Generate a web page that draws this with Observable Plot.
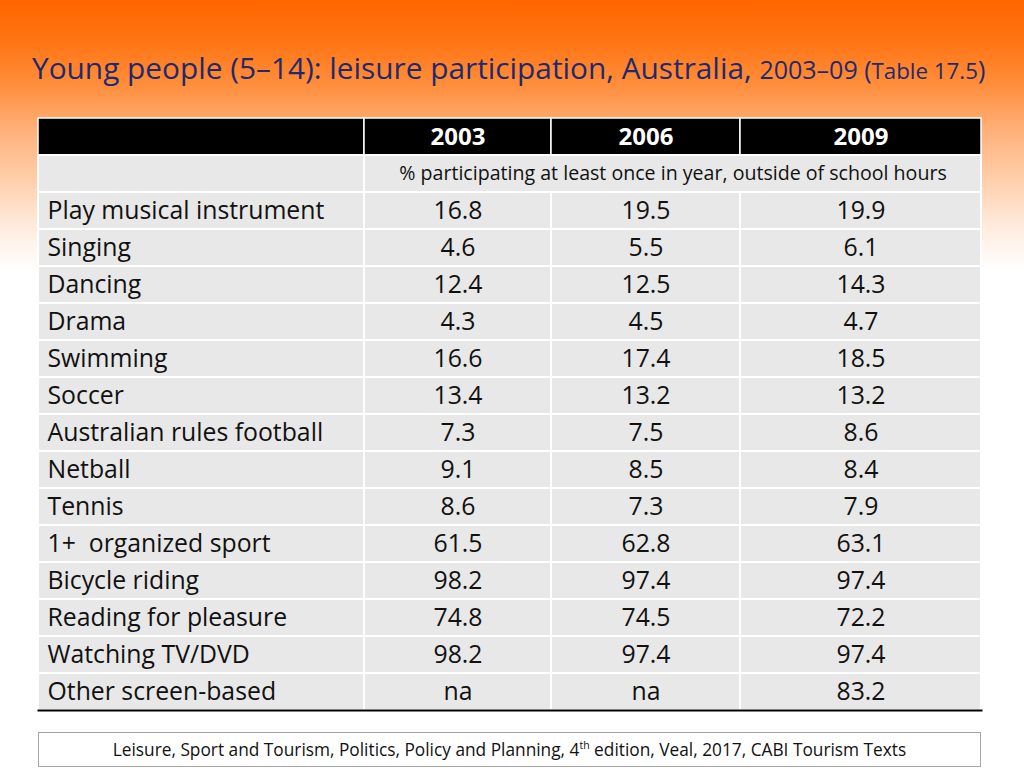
<!DOCTYPE html>
<html><head><meta charset="utf-8">
<script src="https://cdn.jsdelivr.net/npm/d3@7"></script>
<script src="https://cdn.jsdelivr.net/npm/@observablehq/plot@0.6"></script>
<style>
html,body{margin:0;padding:0;}
body{width:1024px;height:768px;overflow:hidden;position:relative;font-family:"Open Sans",sans-serif;font-variant-ligatures:none;
background:linear-gradient(to bottom,#ff6500 0px,#ff7412 40px,#ff8e3c 85px,#ffb07a 130px,#ffcfaa 180px,#ffeadc 225px,#ffffff 270px);}
svg text{font-variant-ligatures:none;}
#title{position:absolute;left:32px;top:53px;white-space:nowrap;color:#1f2a6e;line-height:1;font-size:29.8px;}
#title .s1{font-size:25px;}
#title .s2{font-size:22.3px;}
#chart{position:absolute;left:0;top:100px;}
#caption{position:absolute;left:38px;top:732px;width:941px;height:33px;border:1px solid #a6a6a6;background:#fff;
text-align:center;font-size:17.3px;line-height:33px;color:#111;}
#caption sup{font-size:10.5px;line-height:0;vertical-align:7px;}
</style></head>
<body>
<div id="title">Young people (5–14): leisure participation, Australia, <span class="s1">2003–09 (</span><span class="s2">Table 17.5</span><span class="s1">)</span></div>
<div id="chart"></div>
<div id="caption">Leisure, Sport and Tourism, Politics, Policy and Planning, 4<sup>th</sup> edition, Veal, 2017, CABI Tourism Texts</div>
<script>
const activities = ["Play musical instrument","Singing","Dancing","Drama","Swimming","Soccer","Australian rules football","Netball","Tennis","1+  organized sport","Bicycle riding","Reading for pleasure","Watching TV/DVD","Other screen-based"];
const years = ["2003","2006","2009"];
const v2003 = [16.8,4.6,12.4,4.3,16.6,13.4,7.3,9.1,8.6,61.5,98.2,74.8,98.2,null];
const v2006 = [19.5,5.5,12.5,4.5,17.4,13.2,7.5,8.5,7.3,62.8,97.4,74.5,97.4,null];
const v2009 = [19.9,6.1,14.3,4.7,18.5,13.2,8.6,8.4,7.9,63.1,97.4,72.2,97.4,83.2];
const subheader = "% participating at least once in year, outside of school hours";

// layout (table width units)
const edges = [0, 326, 513, 702, 943];
const series = [v2003, v2006, v2009];
const fmt = v => v == null ? "na" : v.toFixed(1);

const rowKeys = ["__head", "__sub", ...activities];
const cells = [];
activities.forEach((a, i) => {
  cells.push({row: a, col: 0, text: a});
  series.forEach((s, j) => cells.push({row: a, col: j + 1, text: fmt(s[i])}));
});
const headCells = [0, 1, 2, 3].map(c => ({row: "__head", col: c, text: c ? years[c - 1] : ""}));
const subCells = [{row: "__sub", x1: edges[0], x2: edges[1]}, {row: "__sub", x1: edges[1], x2: edges[4], text: subheader}];

const font = "'Open Sans', sans-serif";
const chart = Plot.plot({
  width: 1024, height: 620,
  marginTop: 18, marginBottom: 10, marginLeft: 38, marginRight: 43,
  style: {background: "transparent", fontFamily: font},
  x: {domain: [0, 943], axis: null},
  y: {type: "band", domain: rowKeys, padding: 0, axis: null},
  marks: [
    Plot.barX(headCells, {x1: d => edges[d.col], x2: d => edges[d.col + 1], y: "row", fill: "black", stroke: "white", strokeWidth: 1.5}),
    Plot.barX(subCells, {x1: "x1", x2: "x2", y: "row", fill: "#e8e8e8", stroke: "white", strokeWidth: 2}),
    Plot.barX(cells, {x1: d => edges[d.col], x2: d => edges[d.col + 1], y: "row", fill: "#e8e8e8", stroke: "white", strokeWidth: 2}),
    Plot.text(headCells.filter(d => d.col), {x: d => (edges[d.col] + edges[d.col + 1]) / 2, y: "row", text: "text", fill: "white", fontWeight: "bold", fontSize: 24, fontFamily: font}),
    Plot.text(subCells.filter(d => d.text), {x: d => (d.x1 + d.x2) / 2, y: "row", text: "text", fill: "#111", fontSize: 19.6, fontFamily: font}),
    Plot.text(cells.filter(d => d.col === 0), {x: 9, y: "row", text: "text", textAnchor: "start", fill: "#111", fontSize: 24.8, fontFamily: font}),
    Plot.text(cells.filter(d => d.col > 0), {x: d => (edges[d.col] + edges[d.col + 1]) / 2, y: "row", text: "text", fill: "#111", fontSize: 24.8, fontFamily: font}),
    Plot.frame({anchor: "bottom", stroke: "black", strokeWidth: 2})
  ]
});
document.getElementById("chart").appendChild(chart);
</script>
</body></html>
